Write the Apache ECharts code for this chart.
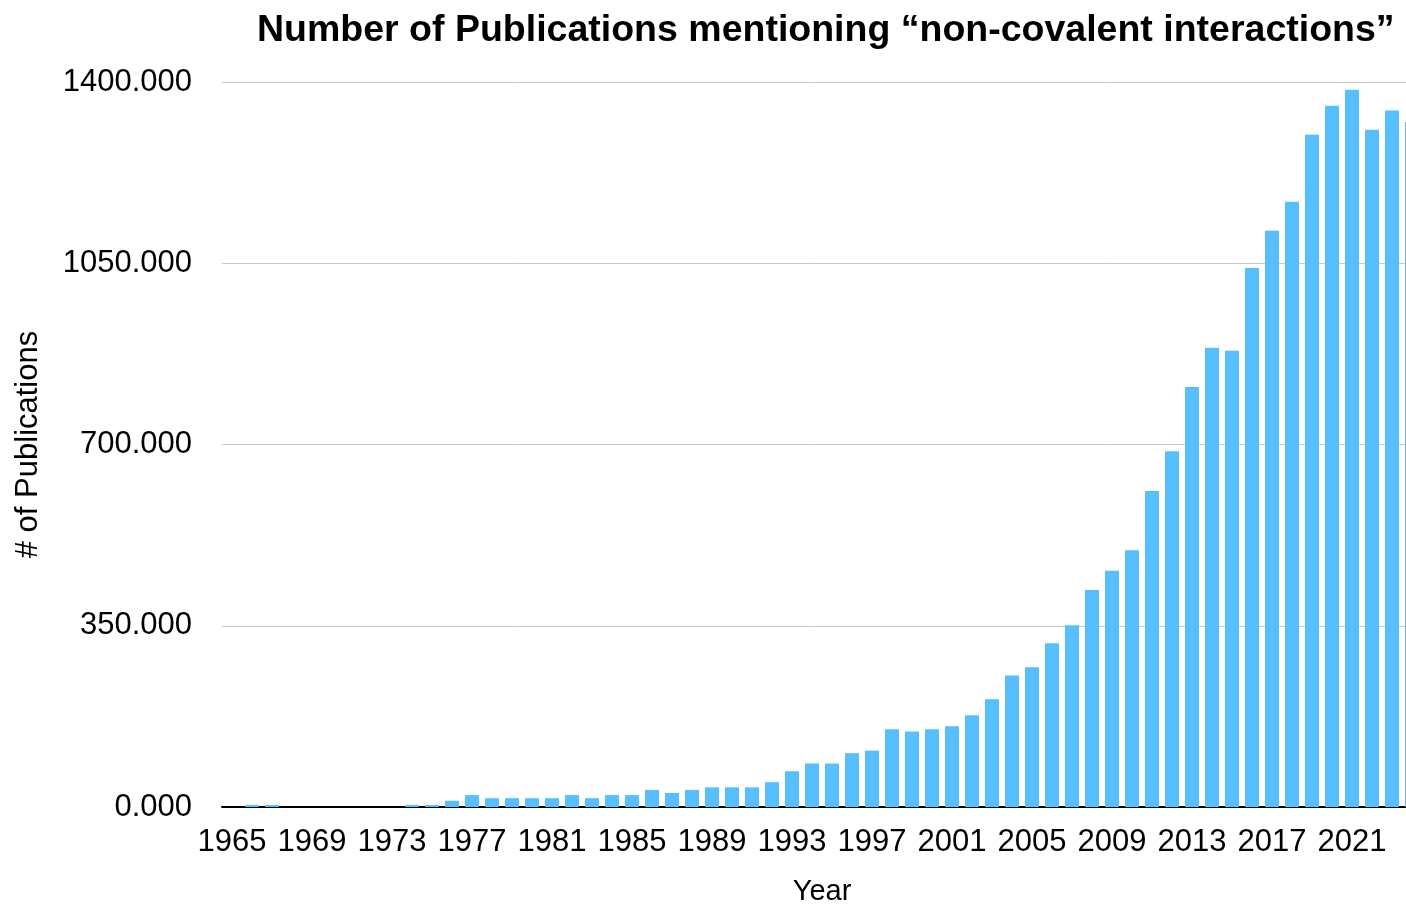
<!DOCTYPE html>
<html>
<head>
<meta charset="utf-8">
<script src="https://cdn.jsdelivr.net/npm/echarts@6/dist/echarts.min.js"></script>
<style>
html,body{margin:0;padding:0;background:#fff;}
#chart{width:1406px;height:906px;}
</style>
</head>
<body>
<div id="chart"></div>
<script>
const years = [];
for (let y = 1965; y <= 2024; y++) years.push(String(y));

const publications = [
  0, 4, 4, 0, 0, 0, 0, 0, 0, 4,
  4, 12, 23, 17, 17, 17, 17, 23, 17, 23,
  23, 33, 27, 33, 38, 38, 38, 48, 69, 84,
  84, 104, 109, 150, 146, 150, 156, 177, 208, 254,
  270, 316, 351, 419, 456, 496, 610, 687, 811, 887,
  881, 1041, 1113, 1169, 1298, 1354, 1385, 1308, 1345, 1323
];

const yTicks = [0, 350, 700, 1050, 1400];

const chart = echarts.init(document.getElementById('chart'));
const font = '"Liberation Sans", Arial, Helvetica, sans-serif';
chart.setOption({
  animation: false,
  backgroundColor: '#ffffff',
  title: {
    text: 'Number of Publications mentioning \u201cnon-covalent interactions\u201d',
    left: 252,
    top: 7,
    textStyle: { fontFamily: font, fontSize: 37.5, fontWeight: 'bold', color: '#000' }
  },
  grid: { left: 222, top: 82, width: 1200, height: 725, containLabel: false, outerBoundsMode: 'none' },
  xAxis: {
    type: 'category',
    data: years,
    name: 'Year',
    nameLocation: 'middle',
    nameGap: 70,
    nameTextStyle: { fontFamily: font, fontSize: 29, color: '#000' },
    axisLine: { show: true, lineStyle: { color: '#000', width: 2 } },
    axisTick: { show: false },
    axisLabel: { interval: 3, fontFamily: font, fontSize: 31, color: '#000', margin: 20 },
    splitLine: { show: false }
  },
  yAxis: {
    type: 'value',
    min: yTicks[0],
    max: yTicks[yTicks.length - 1],
    interval: yTicks[1] - yTicks[0],
    name: '# of Publications',
    nameLocation: 'middle',
    nameGap: 178,
    nameRotate: 90,
    nameTextStyle: { fontFamily: font, fontSize: 31, color: '#000' },
    axisLine: { show: false },
    axisTick: { show: false },
    axisLabel: { fontFamily: font, fontSize: 31, color: '#000', margin: 30,
      formatter: v => v.toFixed(3) },
    splitLine: { show: true, lineStyle: { color: '#c8c8c8', width: 1 } }
  },
  series: [{
    type: 'bar',
    data: publications,
    barWidth: 14,
    itemStyle: { color: '#57bffe' }
  }]
});
</script>
</body>
</html>
